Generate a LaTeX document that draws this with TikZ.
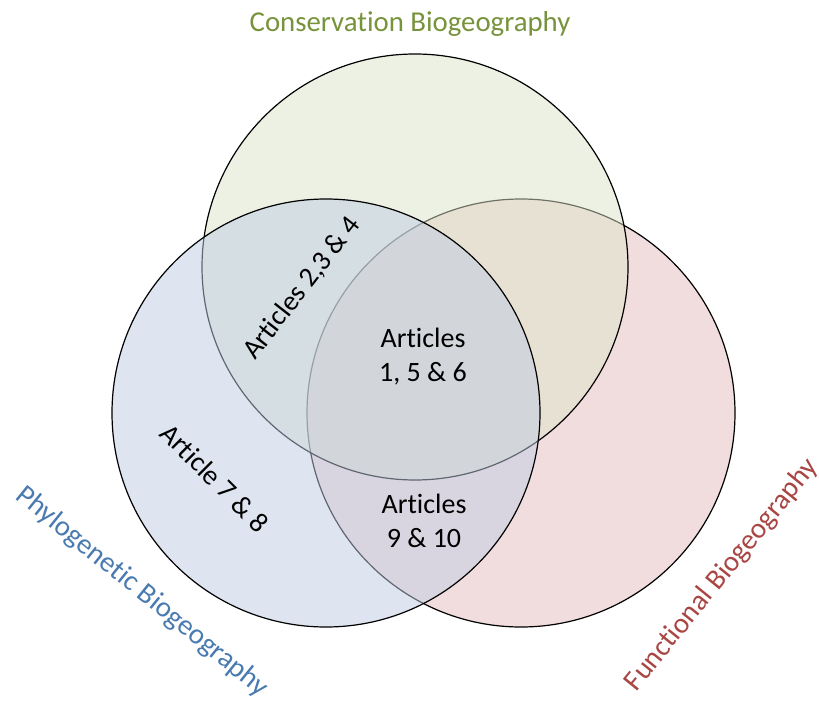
\documentclass[tikz,border=0pt]{standalone}
\usepackage{fontspec}
\setmainfont[Ligatures={NoCommon}]{Carlito}
\definecolor{cgreen}{HTML}{DDE5C9}
\definecolor{cblue}{HTML}{BFCDE3}
\definecolor{cred}{HTML}{E7BDBF}
\definecolor{tgreen}{HTML}{77933C}
\definecolor{tblue}{HTML}{4A7BB0}
\definecolor{tred}{HTML}{A94542}
\begin{document}
\begin{tikzpicture}[x=1pt,y=-1pt,
  setcirc/.style={draw=black,line width=1.2pt,fill opacity=0.5,draw opacity=1},
  lbl/.style={font=\fontsize{28}{34}\selectfont,align=center,inner sep=0pt},
  title/.style={font=\fontsize{28.8}{34}\selectfont,inner sep=0pt}]
\useasboundingbox (0,0) rectangle (819,701);
\fill[white] (0,0) rectangle (819,701);
\path[setcirc,fill=cred] (521,413) circle[radius=214];
\path[setcirc,fill=cgreen] (415,267) circle[radius=213];
\path[setcirc,fill=cblue] (326,413) circle[radius=214];
\node[title,text=tgreen] (tcons) at (410,24) {Conservation Biogeography};
\node[title,text=tblue,rotate=-39] (tphyl) at (142,592) {Phylogenetic Biogeography};
\node[title,text=tred,rotate=51] (tfunc) at (722,575) {Functional Biogeography};
\node[lbl,rotate=52] (a234) at (302,288) {Articles 2,3 \& 4};
\node[lbl] (a156) at (423,357) {Articles\\1, 5 \& 6};
\node[lbl,rotate=-45] (a78) at (215,478) {Article 7 \& 8};
\node[lbl] (a910) at (424,521) {Articles\\9 \& 10};
\end{tikzpicture}
\end{document}
